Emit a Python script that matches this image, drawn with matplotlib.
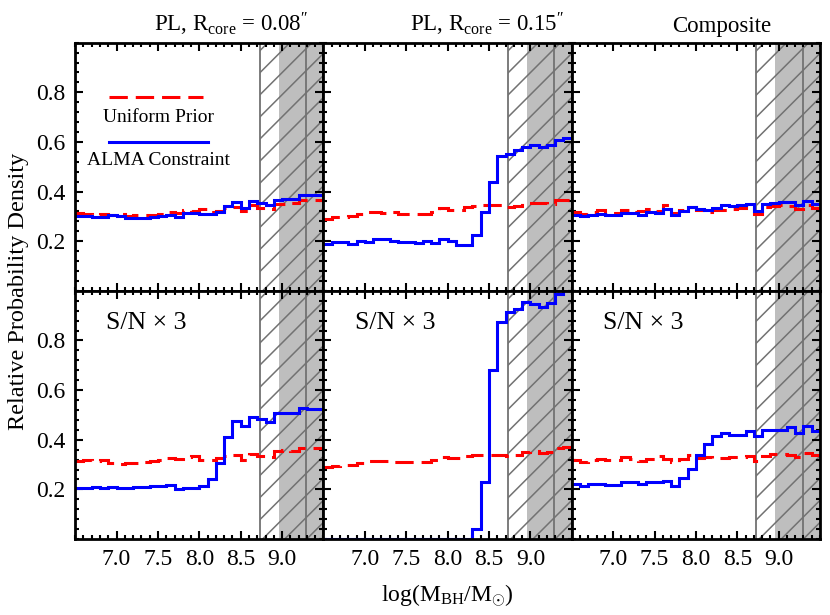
import matplotlib
matplotlib.use("Agg")
import matplotlib.pyplot as plt
import numpy as np
from matplotlib.patches import Rectangle
from matplotlib.ticker import MultipleLocator, FormatStrFormatter

plt.rcParams["font.family"] = ["Liberation Serif", "DejaVu Serif"]
plt.rcParams["mathtext.fontset"] = "custom"
plt.rcParams["mathtext.rm"] = "Liberation Serif"
plt.rcParams["mathtext.it"] = "Liberation Serif:italic"

# log(M_BH) bins, 0.1 dex wide
edges = np.linspace(6.5, 9.5, 31)

# top row: nominal S/N
pl08_prior = [0.312, 0.310, 0.306, 0.310, 0.305, 0.308, 0.302, 0.305, 0.305, 0.306,
              0.310, 0.318, 0.315, 0.325, 0.322, 0.330, 0.318, 0.322, 0.333, 0.336,
              0.320, 0.345, 0.335, 0.330, 0.348, 0.350, 0.355, 0.365, 0.366, 0.368]
pl08_alma = [0.300, 0.302, 0.296, 0.296, 0.304, 0.300, 0.295, 0.293, 0.295, 0.298,
             0.300, 0.306, 0.297, 0.313, 0.312, 0.310, 0.308, 0.316, 0.340, 0.356,
             0.333, 0.360, 0.354, 0.344, 0.368, 0.370, 0.372, 0.388, 0.388, 0.388]
pl15_prior = [0.291, 0.297, 0.297, 0.302, 0.310, 0.316, 0.316, 0.314, 0.316, 0.310,
              0.310, 0.310, 0.310, 0.316, 0.334, 0.324, 0.324, 0.337, 0.340, 0.344,
              0.344, 0.344, 0.338, 0.342, 0.352, 0.355, 0.352, 0.348, 0.366, 0.368]
pl15_alma = [0.190, 0.197, 0.197, 0.190, 0.200, 0.197, 0.207, 0.207, 0.200, 0.197,
             0.197, 0.194, 0.200, 0.194, 0.207, 0.200, 0.183, 0.186, 0.224, 0.317,
             0.438, 0.542, 0.550, 0.566, 0.580, 0.589, 0.580, 0.589, 0.606, 0.617]
comp_prior = [0.318, 0.310, 0.318, 0.324, 0.311, 0.313, 0.327, 0.318, 0.321, 0.331,
              0.321, 0.344, 0.313, 0.327, 0.338, 0.327, 0.318, 0.327, 0.324, 0.330,
              0.335, 0.344, 0.311, 0.338, 0.340, 0.344, 0.340, 0.331, 0.344, 0.335]
comp_alma = [0.307, 0.300, 0.307, 0.311, 0.307, 0.307, 0.313, 0.313, 0.304, 0.317,
             0.313, 0.331, 0.304, 0.320, 0.338, 0.331, 0.327, 0.335, 0.344, 0.340,
             0.344, 0.351, 0.320, 0.351, 0.354, 0.356, 0.358, 0.344, 0.362, 0.351]

# bottom row: S/N x 3
pl08_prior_sn3 = [0.313, 0.317, 0.313, 0.317, 0.306, 0.304, 0.306, 0.308, 0.310, 0.313,
                  0.320, 0.325, 0.322, 0.331, 0.334, 0.320, 0.317, 0.325, 0.334, 0.338,
                  0.320, 0.341, 0.334, 0.331, 0.354, 0.357, 0.354, 0.368, 0.368, 0.366]
pl08_alma_sn3 = [0.206, 0.206, 0.210, 0.207, 0.210, 0.207, 0.207, 0.210, 0.210, 0.213,
                 0.213, 0.217, 0.203, 0.207, 0.207, 0.213, 0.240, 0.307, 0.411, 0.475,
                 0.454, 0.491, 0.484, 0.470, 0.507, 0.507, 0.507, 0.527, 0.523, 0.523]
pl15_prior_sn3 = [0.290, 0.295, 0.297, 0.300, 0.305, 0.316, 0.316, 0.315, 0.312, 0.310,
                  0.310, 0.311, 0.312, 0.318, 0.332, 0.325, 0.325, 0.334, 0.340, 0.338,
                  0.338, 0.340, 0.335, 0.340, 0.352, 0.355, 0.348, 0.352, 0.366, 0.370]
pl15_alma_sn3 = [0.0, 0.0, 0.0, 0.0, 0.0, 0.0, 0.0, 0.0, 0.0, 0.0,
                 0.0, 0.0, 0.0, 0.0, 0.0, 0.0, 0.0, 0.0, 0.039, 0.230,
                 0.679, 0.873, 0.913, 0.927, 0.953, 0.947, 0.935, 0.950, 0.987, 1.01]
comp_prior_sn3 = [0.317, 0.311, 0.317, 0.321, 0.317, 0.317, 0.330, 0.321, 0.313, 0.321,
                  0.333, 0.324, 0.311, 0.324, 0.337, 0.327, 0.330, 0.327, 0.327, 0.330,
                  0.330, 0.333, 0.313, 0.333, 0.341, 0.341, 0.337, 0.330, 0.345, 0.337]
comp_alma_sn3 = [0.221, 0.214, 0.221, 0.221, 0.218, 0.218, 0.228, 0.228, 0.221, 0.228,
                 0.228, 0.233, 0.214, 0.244, 0.284, 0.337, 0.384, 0.417, 0.426, 0.421,
                 0.421, 0.435, 0.414, 0.441, 0.441, 0.441, 0.452, 0.426, 0.455, 0.435]

titles = [r"PL, R$_{\rm core}$ = 0.08$^{\prime\prime}$",
          r"PL, R$_{\rm core}$ = 0.15$^{\prime\prime}$",
          "Composite"]
title_x = [0.63, 0.66, 0.604]

# shaded mass ranges (hatched: 8.73 upward, grey: 8.96 upward, lines at 8.73 and 9.29)
HATCH_LO, GREY_LO, LINE_HI = 8.73, 8.96, 9.29
XMIN, XMAX = 6.5, 9.5
HATCH_STEP = 0.089  # axes-fraction spacing of the diagonal hatch

RED_DASH = (0, (6, 2.6))

priors = [[pl08_prior, pl15_prior, comp_prior],
          [pl08_prior_sn3, pl15_prior_sn3, comp_prior_sn3]]
almas = [[pl08_alma, pl15_alma, comp_alma],
         [pl08_alma_sn3, pl15_alma_sn3, comp_alma_sn3]]

fig, axes = plt.subplots(2, 3, figsize=(8.3, 6.15), dpi=100, sharex=True, sharey=True)
fig.subplots_adjust(left=0.0906, right=0.988, bottom=0.1236, top=0.9306,
                    wspace=0, hspace=0)

for r in range(2):
    for c in range(3):
        ax = axes[r, c]
        ax.set_xlim(XMIN, XMAX)
        ax.set_ylim(0, 1.0)

        ax.axvspan(GREY_LO, XMAX, color="#bebebe", lw=0, zorder=0.5)
        region = Rectangle((HATCH_LO, 0), XMAX - HATCH_LO, 1.0, facecolor="none",
                           edgecolor="none")
        ax.add_patch(region)
        for off in np.arange(-1.2, 1.0, HATCH_STEP):
            ln, = ax.plot([0, 1], [off, off + 1], transform=ax.transAxes,
                          color="#727272", lw=1.1, zorder=0.8)
            ln.set_clip_path(region)
        for xv in (HATCH_LO, LINE_HI):
            ax.axvline(xv, color="#727272", lw=1.3, zorder=0.9)

        ax.stairs(priors[r][c], edges, baseline=None, color="red", lw=2.2,
                  linestyle=RED_DASH, zorder=2.3)
        ax.stairs(almas[r][c], edges, baseline=None, color="blue", lw=2.2, zorder=2.4)

        ax.set_xticks([7.0, 7.5, 8.0, 8.5, 9.0])
        ax.set_yticks([0.2, 0.4, 0.6, 0.8])
        ax.xaxis.set_major_formatter(FormatStrFormatter("%.1f"))
        ax.yaxis.set_major_formatter(FormatStrFormatter("%.1f"))
        ax.xaxis.set_minor_locator(MultipleLocator(0.1))
        ax.yaxis.set_minor_locator(MultipleLocator(0.04))
        ax.tick_params(which="both", direction="in", top=True, right=True,
                       width=1.5, labelsize=17)
        ax.tick_params(which="major", length=6, pad=7)
        ax.tick_params(which="minor", length=3)
        for sp in ax.spines.values():
            sp.set_linewidth(2.0)

        if r == 0:
            ax.set_title(titles[c], x=title_x[c], fontsize=16.5, pad=8)
        else:
            ax.text(0.125, 0.869, "S/N \u00d7 3", transform=ax.transAxes, fontsize=18.5,
                    va="center", ha="left")

# legend drawn inside the first panel
ax0 = axes[0, 0]
ax0.plot([0.136, 0.514], [0.781, 0.781], transform=ax0.transAxes, color="red",
         lw=2.2, linestyle=RED_DASH)
ax0.text(0.335, 0.698, "Uniform Prior", transform=ax0.transAxes, fontsize=14,
         ha="center", va="center")
ax0.plot([0.136, 0.534], [0.601, 0.601], transform=ax0.transAxes, color="blue", lw=2.2)
ax0.text(0.335, 0.526, "ALMA Constraint", transform=ax0.transAxes, fontsize=14,
         ha="center", va="center")

fig.text(0.022, 0.527, "Relative Probability Density", rotation=90, fontsize=17.5,
         ha="center", va="center")
fig.text(0.539, 0.031, r"log(M$_{\rm BH}$/M$_{\odot}$)", fontsize=17,
         ha="center", va="center")

fig.savefig("out.png", dpi=100)
